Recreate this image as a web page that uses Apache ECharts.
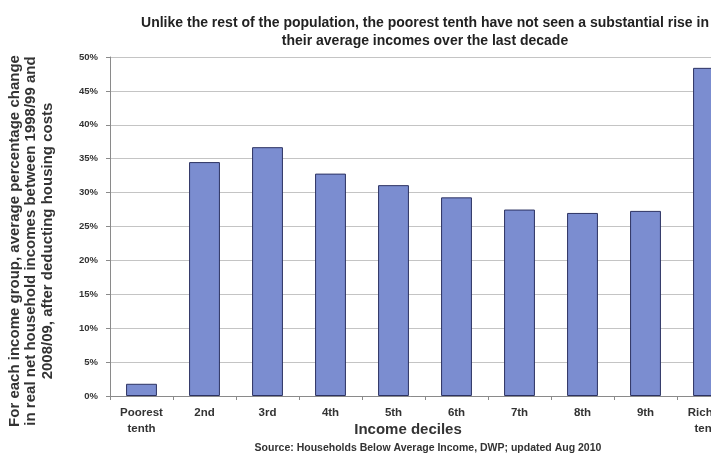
<!DOCTYPE html>
<html>
<head>
<meta charset="utf-8">
<script src="https://cdn.jsdelivr.net/npm/echarts@6/dist/echarts.min.js"></script>
<style>
html,body{margin:0;padding:0;background:#fff;}
#chart{width:711px;height:453px;}
</style>
</head>
<body>
<div id="chart"></div>
<script>
const categories = ['Poorest\ntenth', '2nd', '3rd', '4th', '5th', '6th', '7th', '8th', '9th', 'Richest\ntenth'];
const values = [1.8, 34.5, 36.7, 32.8, 31.1, 29.3, 27.5, 27.0, 27.3, 48.4];
const yTicks = [0, 5, 10, 15, 20, 25, 30, 35, 40, 45, 50];
const titleText = 'Unlike the rest of the population, the poorest tenth have not seen a substantial rise in\ntheir average incomes over the last decade';
const yName = 'For each income group, average percentage change\nin real net household incomes between 1998/99 and\n2008/09, after deducting housing costs';
const xName = 'Income deciles';
const sourceText = 'Source: Households Below Average Income, DWP; updated Aug 2010';

const chart = echarts.init(document.getElementById('chart'), null, {renderer: 'canvas'});
const font = 'Liberation Sans, Arial, sans-serif';
chart.setOption({
  animation: false,
  backgroundColor: '#ffffff',
  title: {
    text: titleText,
    left: 420,
    top: 9,
    textAlign: 'center',
    textStyle: {fontFamily: font, fontSize: 14, fontWeight: 'bold', color: '#222', lineHeight: 18}
  },
  grid: {left: 110, top: 57, width: 630, height: 339, containLabel: false, outerBoundsMode: 'none'},
  xAxis: {
    type: 'category',
    data: categories,
    axisLine: {lineStyle: {color: '#8a8a8a', width: 1}},
    axisTick: {show: true, alignWithLabel: false, length: 4, lineStyle: {color: '#8a8a8a'}},
    axisLabel: {fontFamily: font, fontSize: 11.5, fontWeight: 'bold', color: '#333', margin: 9, lineHeight: 16, interval: 0}
  },
  yAxis: {
    type: 'value',
    min: 0,
    max: 50,
    interval: 5,
    axisLine: {show: true, lineStyle: {color: '#8a8a8a', width: 1}},
    axisTick: {show: true, length: 4, lineStyle: {color: '#8a8a8a'}},
    axisLabel: {fontFamily: font, fontSize: 9.5, fontWeight: 'bold', color: '#333', margin: 12,
      formatter: function (v) { return yTicks.indexOf(v) >= 0 ? v + '%' : ''; }},
    splitLine: {show: true, lineStyle: {color: '#c4c4c4', width: 1}}
  },
  series: [{
    type: 'bar',
    data: values,
    barWidth: '49%',
    itemStyle: {color: '#7b8dd0', borderColor: '#2c3262', borderWidth: 1}
  }],
  graphic: [
    {type: 'text', x: 31, y: 241, rotation: Math.PI / 2,
      style: {text: yName, fontFamily: font, fontSize: 15, fontWeight: 'bold', fill: '#333',
        align: 'center', verticalAlign: 'middle', lineHeight: 16.5}},
    {type: 'text', x: 408, y: 430,
      style: {text: xName, fontFamily: font, fontSize: 15, fontWeight: 'bold', fill: '#333',
        align: 'center', verticalAlign: 'middle'}},
    {type: 'text', x: 428, y: 448,
      style: {text: sourceText, fontFamily: font, fontSize: 10.5, fontWeight: 'bold', fill: '#333',
        align: 'center', verticalAlign: 'middle'}}
  ]
});
</script>
</body>
</html>
